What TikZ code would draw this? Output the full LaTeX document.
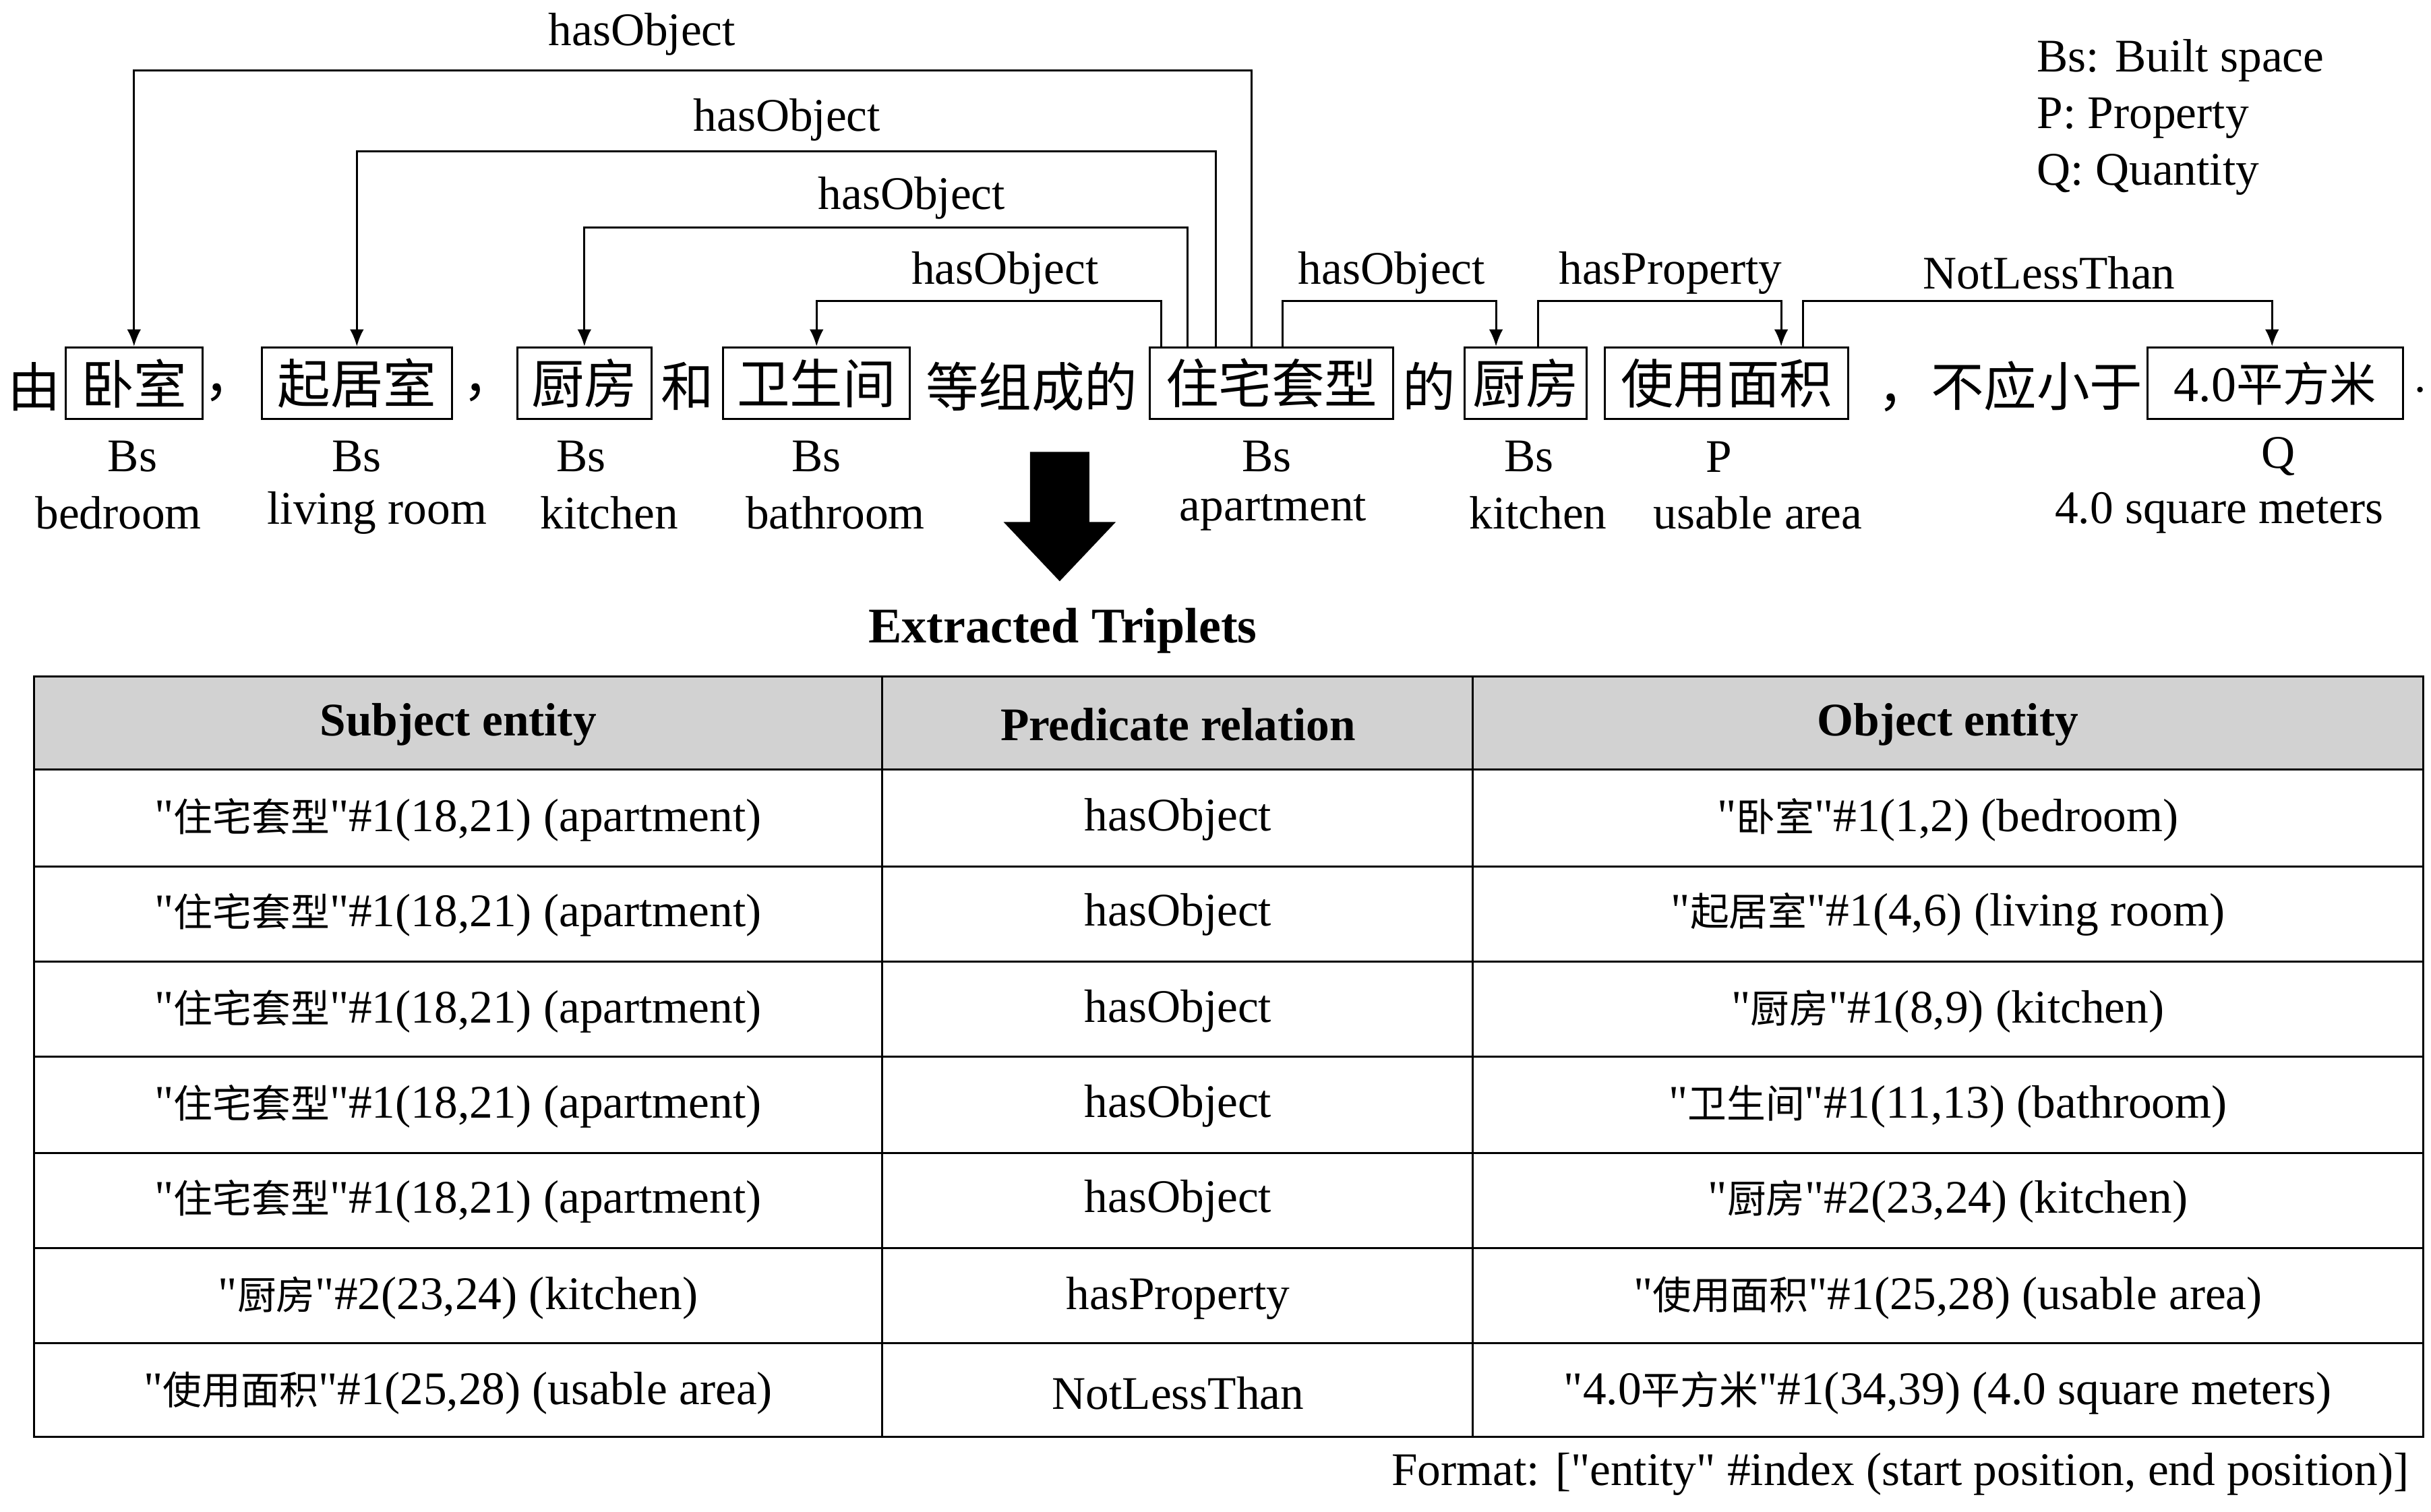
\documentclass[tikz,border=0pt]{standalone}
\usepackage{fontspec}
\setmainfont{Liberation Serif}
\newfontfamily\cjk{Noto Sans CJK SC}
\usetikzlibrary{arrows.meta}
\newcommand\qq{\textquotedbl}
\newcommand\cj[1]{{\fontsize{25}{28}\selectfont\cjk #1}}
\begin{document}
\begin{tikzpicture}[x=1pt,y=-1pt,
 bx/.style={draw,line width=1.3pt,minimum height=46pt,inner sep=0pt,font=\fontsize{34}{36}\selectfont\cjk},
 ch/.style={inner sep=0pt,font=\fontsize{34}{36}\selectfont\cjk},
 lb/.style={inner sep=0pt,font=\fontsize{30}{33}\selectfont},
 arr/.style={line width=1.3pt,-{Latex[length=11pt,width=9pt]}},
 tt/.style={inner sep=0pt,font=\fontsize{30}{33}\selectfont},
 th/.style={inner sep=0pt,font=\fontsize{30}{33}\selectfont\bfseries}]
\useasboundingbox (0,0) rectangle (1560,970);
% sentence
\node[ch] (c1) at (22,248) {由};
\node[bx,minimum width=88pt] (bed) at (86,246) {卧室};
\node[ch] (c2) at (148,252) {，};
\node[bx,minimum width=122pt] (liv) at (229,246) {起居室};
\node[ch] (c3) at (314,252) {，};
\node[bx,minimum width=86pt] (kit) at (375,246) {厨房};
\node[ch] (c4) at (441,248) {和};
\node[bx,minimum width=120pt] (bath) at (524,246) {卫生间};
\node[ch] (c5) at (662,248) {等组成的};
\node[bx,minimum width=156pt] (apt) at (816,246) {住宅套型};
\node[ch] (c6) at (917,248) {的};
\node[bx,minimum width=78pt] (kit2) at (979,246) {厨房};
\node[bx,minimum width=156pt] (use) at (1108,246) {使用面积};
\node[ch] (c7) at (1290,248) {，不应小于};
\node[bx,minimum width=164pt,font=\fontsize{32}{34}\selectfont] (qty) at (1460,246) {4.0{\fontsize{30}{32}\selectfont\cjk 平方米}};
\node[lb] (c8) at (1553,250) {.};
% relation arrows
\draw[arr] ([xshift=-13pt]apt.north) |- (86,45) -- (bed.north);
\node[lb] (l1) at (412,22) {hasObject};
\draw[arr] ([xshift=-36pt]apt.north) |- (229,97) -- (liv.north);
\node[lb] (l2) at (505,77) {hasObject};
\draw[arr] ([xshift=-54pt]apt.north) |- (375,146) -- (kit.north);
\node[lb] (l3) at (585,127) {hasObject};
\draw[arr] ([xshift=-71pt]apt.north) |- (524,193) -- (bath.north);
\node[lb] (l4) at (645,175) {hasObject};
\draw[arr] ([xshift=7pt]apt.north) |- (960,193) -- ([xshift=-19pt]kit2.north);
\node[lb] (l5) at (893,175) {hasObject};
\draw[arr] ([xshift=8pt]kit2.north) |- (1143,193) -- ([xshift=35pt]use.north);
\node[lb] (l6) at (1072,175) {hasProperty};
\draw[arr] ([xshift=49pt]use.north) |- (1458,193) -- ([xshift=-2pt]qty.north);
\node[lb] (l7) at (1315,175) {NotLessThan};
% labels
\foreach \x/\a/\bx/\b in {85/Bs/76/bedroom, 229/Bs/242/living room, 373/Bs/391/kitchen, 524/Bs/536/bathroom, 813/Bs/817/apartment, 981/Bs/987/kitchen, 1103/P/1128/usable area, 1462/Q/1424/4.0 square meters}{
 \node[lb] at (\x,293) {\a};
 \node[lb] at (\bx,329) {\b};
}
% legend
\node[lb,anchor=west] (g1) at (1307,39) {Bs: Built space};
\node[lb,anchor=west] (g2) at (1307,76) {P: Property};
\node[lb,anchor=west] (g3) at (1307,112) {Q: Quantity};
% big arrow
\fill (661,290) -- (699,290) -- (699,335) -- (716,335) -- (680,373) -- (644,335) -- (661,335) -- cycle;
\node[th,font=\fontsize{32}{34}\selectfont\bfseries] (title) at (682,405) {Extracted Triplets};
% table
\fill[gray!35] (22,434) rectangle (1555,494);
\draw[line width=1.3pt] (22,434) rectangle (1555,922);
\foreach \y in {494,556,617,678,740,801,862}{\draw[line width=1.3pt] (22,\y) -- (1555,\y);}
\draw[line width=1.3pt] (566,434) -- (566,922);
\draw[line width=1.3pt] (945,434) -- (945,922);
\node[th] at (294,465) {Subject entity};
\node[th] at (756,465) {Predicate relation};
\node[th] at (1250,465) {Object entity};
\def\apt{\qq\cj{住宅套型}\qq\#1(18,21) (apartment)}
\foreach \y/\s/\p/\o in {
 526/\apt/hasObject/{\qq\cj{卧室}\qq\#1(1,2) (bedroom)},
 587/\apt/hasObject/{\qq\cj{起居室}\qq\#1(4,6) (living room)},
 649/\apt/hasObject/{\qq\cj{厨房}\qq\#1(8,9) (kitchen)},
 710/\apt/hasObject/{\qq\cj{卫生间}\qq\#1(11,13) (bathroom)},
 771/\apt/hasObject/{\qq\cj{厨房}\qq\#2(23,24) (kitchen)},
 833/{\qq\cj{厨房}\qq\#2(23,24) (kitchen)}/hasProperty/{\qq\cj{使用面积}\qq\#1(25,28) (usable area)},
 894/{\qq\cj{使用面积}\qq\#1(25,28) (usable area)}/NotLessThan/{\qq 4.0\cj{平方米}\qq\#1(34,39) (4.0 square meters)}}{
 \node[tt] at (294,\y) {\s};
 \node[tt] at (756,\y) {\p};
 \node[tt] at (1250,\y) {\o};
}
\node[tt,anchor=east] (fmt) at (1546,946) {Format: [\qq entity\qq{} \#index (start position, end position)]};
\end{tikzpicture}
\end{document}
